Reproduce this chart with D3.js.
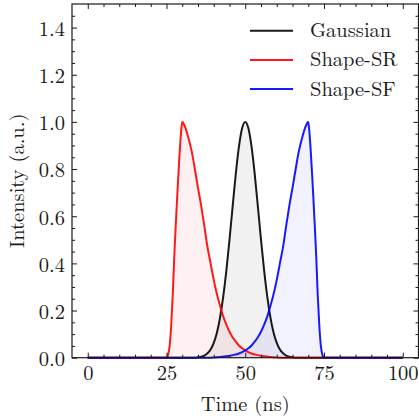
<!DOCTYPE html>
<html>
<head>
<meta charset="utf-8">
<script src="https://cdn.jsdelivr.net/npm/d3@7"></script>
<style>
body { margin: 0; background: #fff; }
</style>
</head>
<body>
<div id="chart"></div>
<script>
// Pulse shapes (time in ns, normalised intensity)
const gaussTime = [0, 34, 35, 36, 37, 38, 39, 40, 41, 42, 43, 44, 45, 46, 47, 48, 49, 50,
    51, 52, 53, 54, 55, 56, 57, 58, 59, 60, 61, 62, 63, 64, 65, 66, 100];
const gaussIntensity = [0, 0, 0.002, 0.0044, 0.0093, 0.019, 0.035, 0.063, 0.106, 0.17, 0.258, 0.369, 0.501, 0.642, 0.78, 0.895, 0.973, 1.0,
    0.973, 0.895, 0.78, 0.642, 0.501, 0.369, 0.258, 0.17, 0.106, 0.063, 0.035, 0.019, 0.0093, 0.0044, 0.002, 0, 0];

const srTime = [0, 25, 25.5, 26, 26.5, 27, 27.5, 28, 28.5, 29, 29.5, 29.75, 30, 30.25, 30.5, 31, 32, 33, 34, 35, 36, 37, 38,
    39, 40, 41, 42, 43, 44, 45, 46, 47, 48, 49, 50, 52, 54, 56, 58, 60, 62, 100];
const srIntensity = [0, 0, 0.012, 0.05, 0.14, 0.27, 0.44, 0.58, 0.71, 0.83, 0.935, 0.975, 1.0, 0.997, 0.99, 0.975, 0.93, 0.875, 0.8, 0.72, 0.645, 0.56, 0.47,
    0.4, 0.33, 0.27, 0.22, 0.175, 0.14, 0.11, 0.087, 0.068, 0.052, 0.04, 0.031, 0.018, 0.011, 0.006, 0.003, 0.001, 0, 0];

const sfTime = [0, 38, 40, 42, 44, 46, 48, 50, 51, 52, 53, 54, 55, 56, 57, 58, 59, 60, 61, 62, 63,
    64, 65, 66, 67, 68, 69, 69.5, 69.75, 70, 70.25, 70.5, 71, 71.5, 72, 72.5, 73, 73.5, 74, 74.5, 75, 100];
const sfIntensity = [0, 0, 0.001, 0.003, 0.006, 0.011, 0.018, 0.031, 0.04, 0.052, 0.068, 0.087, 0.11, 0.14, 0.175, 0.22, 0.27, 0.33, 0.4, 0.47, 0.56,
    0.645, 0.72, 0.8, 0.875, 0.93, 0.975, 0.99, 0.997, 1.0, 0.975, 0.935, 0.83, 0.71, 0.58, 0.44, 0.27, 0.14, 0.05, 0.012, 0, 0];

const seriesNames = ["Gaussian", "Shape-SR", "Shape-SF"];
const seriesColors = ["#000000", "#ff0000", "#0000ff"];

const xTicks = [0, 25, 50, 75, 100];
const yTicks = [0, 0.2, 0.4, 0.6, 0.8, 1.0, 1.2, 1.4];
const xMinorTicks = [5, 10, 15, 20, 30, 35, 40, 45, 55, 60, 65, 70, 80, 85, 90, 95];
const yMinorTicks = [0.05, 0.1, 0.15, 0.25, 0.3, 0.35, 0.45, 0.5, 0.55, 0.65, 0.7, 0.75, 0.85, 0.9, 0.95,
    1.05, 1.1, 1.15, 1.25, 1.3, 1.35, 1.45];

const fontFamily = "\"Latin Modern Roman\", \"Liberation Serif\", serif";
const fontSize = "20.5px";
const textColor = "#1a1a1a";

// Canvas
const width = 419;
const height = 419;
const plot = {left: 72, right: 418.5, top: 4, bottom: 357.7};

const svg = d3.select("#chart")
    .append("svg")
    .attr("width", width)
    .attr("height", height);

const x = d3.scaleLinear().domain([-5, 105]).range([plot.left, plot.right]);
const y = d3.scaleLinear().domain([0, 1.5]).range([plot.bottom, plot.top]);

const series = [
    {name: seriesNames[0], color: seriesColors[0], values: gaussTime.map((t, i) => ({t: t, v: gaussIntensity[i]}))},
    {name: seriesNames[1], color: seriesColors[1], values: srTime.map((t, i) => ({t: t, v: srIntensity[i]}))},
    {name: seriesNames[2], color: seriesColors[2], values: sfTime.map((t, i) => ({t: t, v: sfIntensity[i]}))}
];

const area = d3.area()
    .x(d => x(d.t))
    .y0(y(0))
    .y1(d => y(d.v))
    .curve(d3.curveMonotoneX);

const line = d3.line()
    .x(d => x(d.t))
    .y(d => y(d.v))
    .curve(d3.curveMonotoneX);

// shaded areas under each pulse
svg.append("g").selectAll("path")
    .data(series)
    .enter().append("path")
    .attr("d", d => area(d.values))
    .attr("fill", d => d.color)
    .attr("fill-opacity", 0.055);

// pulse outlines
svg.append("g").selectAll("path")
    .data(series)
    .enter().append("path")
    .attr("d", d => line(d.values))
    .attr("fill", "none")
    .attr("stroke", d => d.color)
    .attr("stroke-opacity", 0.9)
    .attr("stroke-width", 2)
    .attr("stroke-linejoin", "round");

// axes: ticks point inward on all four sides
function styleAxis(g) {
    g.select(".domain").remove();
    g.selectAll("line").attr("stroke", textColor).attr("stroke-width", 1);
    g.selectAll("text")
        .style("font-family", fontFamily)
        .style("font-size", fontSize)
        .attr("fill", textColor);
}

svg.append("g")
    .attr("transform", `translate(0,${plot.bottom})`)
    .call(d3.axisBottom(x).tickValues(xTicks).tickSize(-5).tickPadding(8).tickFormat(d3.format("d")))
    .call(styleAxis);
svg.append("g")
    .attr("transform", `translate(0,${plot.bottom})`)
    .call(d3.axisBottom(x).tickValues(xMinorTicks).tickSize(-3).tickFormat(""))
    .call(styleAxis);
svg.append("g")
    .attr("transform", `translate(0,${plot.top})`)
    .call(d3.axisTop(x).tickValues(xTicks).tickSize(-5).tickFormat(""))
    .call(styleAxis);
svg.append("g")
    .attr("transform", `translate(0,${plot.top})`)
    .call(d3.axisTop(x).tickValues(xMinorTicks).tickSize(-3).tickFormat(""))
    .call(styleAxis);

svg.append("g")
    .attr("transform", `translate(${plot.left},0)`)
    .call(d3.axisLeft(y).tickValues(yTicks).tickSize(-5).tickPadding(7).tickFormat(d3.format(".1f")))
    .call(styleAxis)
    .selectAll("text").attr("dy", "0.38em");
svg.append("g")
    .attr("transform", `translate(${plot.left},0)`)
    .call(d3.axisLeft(y).tickValues(yMinorTicks).tickSize(-3).tickFormat(""))
    .call(styleAxis);
svg.append("g")
    .attr("transform", `translate(${plot.right},0)`)
    .call(d3.axisRight(y).tickValues(yTicks).tickSize(-5).tickFormat(""))
    .call(styleAxis);
svg.append("g")
    .attr("transform", `translate(${plot.right},0)`)
    .call(d3.axisRight(y).tickValues(yMinorTicks).tickSize(-3).tickFormat(""))
    .call(styleAxis);

// frame
svg.append("rect")
    .attr("x", plot.left)
    .attr("y", plot.top)
    .attr("width", plot.right - plot.left)
    .attr("height", plot.bottom - plot.top)
    .attr("fill", "none")
    .attr("stroke", textColor)
    .attr("stroke-width", 1.2);

// axis labels
svg.append("text")
    .attr("x", (plot.left + plot.right) / 2)
    .attr("y", 411)
    .attr("text-anchor", "middle")
    .attr("fill", textColor)
    .style("font-family", fontFamily)
    .style("font-size", fontSize)
    .text("Time (ns)");

svg.append("text")
    .attr("transform", "rotate(-90)")
    .attr("x", -(plot.top + plot.bottom) / 2)
    .attr("y", 24)
    .attr("text-anchor", "middle")
    .attr("fill", textColor)
    .style("font-family", fontFamily)
    .style("font-size", fontSize)
    .text("Intensity (a.u.)");

// legend
const legend = svg.append("g")
    .attr("class", "legend")
    .attr("transform", "translate(250, 30.7)");

series.forEach((s, i) => {
    const item = legend.append("g")
        .attr("transform", `translate(0, ${i * 29.2})`);
    item.append("line")
        .attr("x1", 0)
        .attr("x2", 43)
        .attr("stroke", s.color)
        .attr("stroke-opacity", 0.9)
        .attr("stroke-width", 2);
    item.append("text")
        .attr("x", 60)
        .attr("y", 6.5)
        .attr("fill", textColor)
        .style("font-family", fontFamily)
        .style("font-size", fontSize)
        .text(s.name);
});
</script>
</body>
</html>
